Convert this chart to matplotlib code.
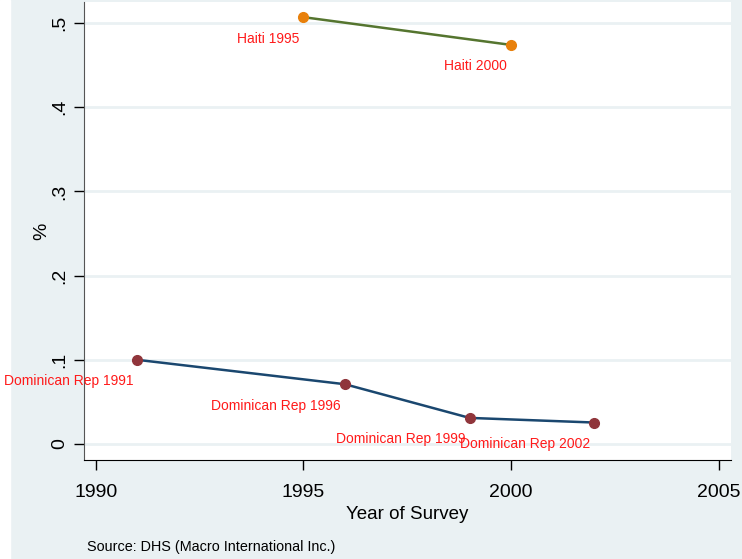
import matplotlib.pyplot as plt

plt.rcParams['font.family'] = ['Liberation Sans', 'DejaVu Sans']

# data
haiti_years = [1995, 2000]
haiti_vals = [0.507, 0.474]
haiti_labels = ['Haiti 1995', 'Haiti 2000']

dr_years = [1991, 1996, 1999, 2002]
dr_vals = [0.100, 0.071, 0.031, 0.0255]
dr_labels = ['Dominican Rep 1991', 'Dominican Rep 1996', 'Dominican Rep 1999', 'Dominican Rep 2002']

xticks = [1990, 1995, 2000, 2005]
yticks = [0, 0.1, 0.2, 0.3, 0.4, 0.5]
ytick_labels = ['0', '.1', '.2', '.3', '.4', '.5']

bg = '#eaf1f3'
fig = plt.figure(figsize=(7.42, 5.59), dpi=100, facecolor=bg)
# white strip on the far left of the picture
fig.patches.append(plt.Rectangle((0, 0), 10 / 742, 1, transform=fig.transFigure,
                                 color='white', zorder=-1))
ax = fig.add_axes([84 / 742, 1 - 460 / 559, (731 - 84) / 742, (460 - 2) / 559])
ax.set_facecolor('white')

ax.plot(haiti_years, haiti_vals, color='#55752f', lw=1.8, zorder=3)
ax.plot(haiti_years, haiti_vals, 'o', color='#e8800b', ms=7, zorder=4)
ax.plot(dr_years, dr_vals, color='#1a476f', lw=1.8, zorder=3)
ax.plot(dr_years, dr_vals, 'o', color='#90353b', ms=7, zorder=4)

for x, y, s in list(zip(haiti_years, haiti_vals, haiti_labels)) + list(zip(dr_years, dr_vals, dr_labels)):
    ax.annotate(s, (x, y), xytext=(-3, -15.5), textcoords='offset points',
                ha='right', va='center', color='#ff1a1a', fontsize=10)

ax.set_xlim(1989.72, 2005.29)
ax.set_ylim(-0.019, 0.525)
ax.set_xticks(xticks)
ax.set_yticks(yticks)
ax.set_yticklabels(ytick_labels, rotation=90, va='center')
ax.tick_params(axis='both', direction='out', length=7, width=1, labelsize=14, colors='black')
ax.tick_params(axis='y', pad=4)
ax.tick_params(axis='x', pad=10)
ax.grid(axis='y', color=bg, lw=2)
ax.set_axisbelow(True)
for s in ['top', 'right']:
    ax.spines[s].set_visible(False)
ax.spines['left'].set_color('#555555')
ax.spines['bottom'].set_color('black')

ax.set_xlabel('Year of Survey', fontsize=13.5, labelpad=4)
ax.set_ylabel('%', fontsize=14, labelpad=1)
fig.text(87 / 742, 1 - 547 / 559, 'Source: DHS (Macro International Inc.)', fontsize=10.4, va='center')

fig.savefig('out.png', dpi=100, facecolor=bg)
